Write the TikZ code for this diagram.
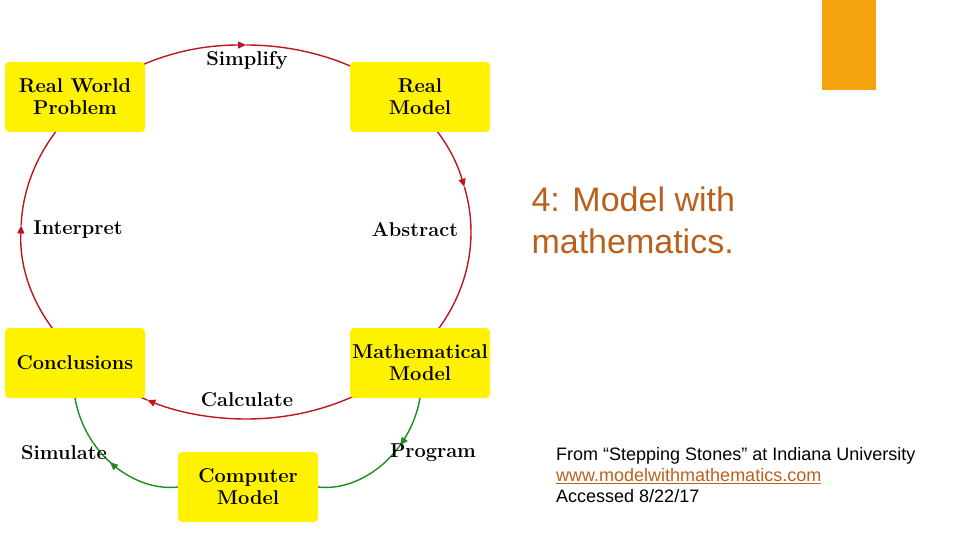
\documentclass[tikz,border=0pt]{standalone}
\usepackage{fontspec}
\newfontfamily\sansf{Liberation Sans}
\usetikzlibrary{arrows.meta,decorations.markings}
\definecolor{boxy}{HTML}{FFF200}
\definecolor{cred}{HTML}{C0141E}
\definecolor{cgreen}{HTML}{1E8C1E}
\definecolor{orng}{HTML}{F5A30F}
\definecolor{titl}{HTML}{B8601C}
\tikzset{
 box/.style={fill=boxy,rounded corners=4pt,minimum width=140pt,minimum height=70pt,align=center,font=\fontsize{20}{22}\selectfont\bfseries,inner sep=0pt},
 lbl/.style={font=\fontsize{20}{20}\selectfont\bfseries},
 redc/.style={cred,line width=1.4pt},
 grnc/.style={cgreen,line width=1.4pt},
 tip/.style={-{Triangle[length=8pt,width=7pt]}},
 marr/.style={postaction={decorate},decoration={markings,mark=at position #1 with {\arrow{Triangle[length=8pt,width=7pt]}}}}
}
\begin{document}
\begin{tikzpicture}[x=1pt,y=-1pt]
\useasboundingbox (0,0) rectangle (960,540);
\fill[orng] (822,0) rectangle (876,90);
\coordinate (c) at (246,232);
\draw[redc,tip] (c) ++(0:225 and 187) arc[start angle=0,end angle=116,x radius=225,y radius=187];
\draw[redc,tip] (c) ++(116:225 and 187) arc[start angle=116,end angle=182,x radius=225,y radius=187];
\draw[redc,tip] (c) ++(182:225 and 187) arc[start angle=182,end angle=270,x radius=225,y radius=187];
\draw[redc,tip] (c) ++(270:225 and 187) arc[start angle=270,end angle=346,x radius=225,y radius=187];
\draw[redc] (c) ++(346:225 and 187) arc[start angle=346,end angle=360,x radius=225,y radius=187];
\node[box] (rw) at (75,97) {Real World\\Problem};
\node[box] (rm) at (420,97) {Real\\Model};
\node[box] (co) at (75,363) {Conclusions};
\node[box] (mm) at (420,363) {Mathematical\\Model};
\node[box] (cm) at (248,487) {Computer\\Model};
\draw[grnc,marr=0.5] (cm.west) .. controls (135,492) and (85,455) .. (75,398) coordinate (cot);
\draw[grnc,marr=0.35] (420,398) coordinate (mmb) .. controls (410,455) and (360,492) .. (cm.east);
\node[lbl] (l1) at (247,61) {Simplify};
\node[lbl] (l2) at (78,230) {Interpret};
\node[lbl] (l3) at (415,230) {Abstract};
\node[lbl] (l4) at (247,400) {Calculate};
\node[lbl] (l5) at (64,453) {Simulate};
\node[lbl] (l6) at (433,453) {Program};
\node[anchor=west,text=titl,font=\sansf\fontsize{34}{42}\selectfont,align=left] (t) at (528,220) {4: Model with\\mathematics.};
\node[anchor=north west,font=\sansf\fontsize{18}{21}\selectfont,align=left,inner sep=0pt] (s) at (556,447) {From “Stepping Stones” at Indiana University\\{\color{titl}\underline{www.modelwithmathematics.com}}\\Accessed 8/22/17};
\end{tikzpicture}
\end{document}
